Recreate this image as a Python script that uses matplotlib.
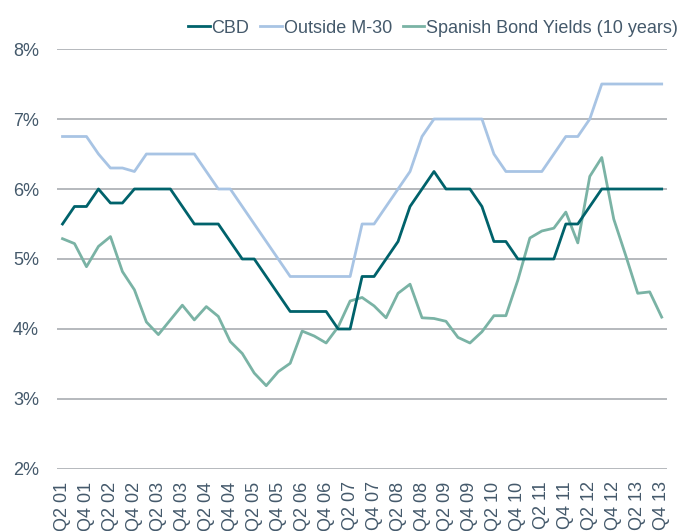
import matplotlib
matplotlib.use("Agg")
import matplotlib.pyplot as plt
import numpy as np

# Quarterly series, Q2 2001 .. Q4 2013 (51 quarters)
quarters = [f"Q{q} {y:02d}" for y in range(1, 14) for q in (1, 2, 3, 4)][1:]

cbd = [5.5, 5.75, 5.75, 6.0, 5.8, 5.8, 6.0, 6.0, 6.0, 6.0,
       5.75, 5.5, 5.5, 5.5, 5.25, 5.0, 5.0, 4.75, 4.5, 4.25,
       4.25, 4.25, 4.25, 4.0, 4.0, 4.75, 4.75, 5.0, 5.25, 5.75,
       6.0, 6.25, 6.0, 6.0, 6.0, 5.75, 5.25, 5.25, 5.0, 5.0,
       5.0, 5.0, 5.5, 5.5, 5.75, 6.0, 6.0, 6.0, 6.0, 6.0, 6.0]

outside_m30 = [6.75, 6.75, 6.75, 6.5, 6.3, 6.3, 6.25, 6.5, 6.5, 6.5,
               6.5, 6.5, 6.25, 6.0, 6.0, 5.75, 5.5, 5.25, 5.0, 4.75,
               4.75, 4.75, 4.75, 4.75, 4.75, 5.5, 5.5, 5.75, 6.0, 6.25,
               6.75, 7.0, 7.0, 7.0, 7.0, 7.0, 6.5, 6.25, 6.25, 6.25,
               6.25, 6.5, 6.75, 6.75, 7.0, 7.5, 7.5, 7.5, 7.5, 7.5, 7.5]

bond_yields = [5.29, 5.22, 4.89, 5.18, 5.32, 4.82, 4.56, 4.10, 3.92, 4.13,
               4.34, 4.13, 4.32, 4.18, 3.82, 3.65, 3.37, 3.19, 3.39, 3.51,
               3.97, 3.90, 3.80, 4.03, 4.40, 4.45, 4.33, 4.16, 4.51, 4.64,
               4.16, 4.15, 4.11, 3.88, 3.80, 3.96, 4.19, 4.19, 4.70, 5.30,
               5.40, 5.44, 5.67, 5.23, 6.18, 6.45, 5.57, 5.05, 4.51, 4.53, 4.17]

y_ticks = [2, 3, 4, 5, 6, 7, 8]

text_color = "#44596B"
grid_color = "#A9ADB1"

plt.rcParams["font.family"] = ["Liberation Sans", "DejaVu Sans"]

fig = plt.figure(figsize=(6.8, 5.31), dpi=100)
ax = fig.add_axes([0.084, 0.1168, 0.897, 0.7909])

x = np.arange(len(quarters))
ax.plot(x, cbd, color="#00626B", lw=2.0, label="CBD", zorder=4)
ax.plot(x, outside_m30, color="#A8C4E4", lw=2.0, label="Outside M-30", zorder=3)
ax.plot(x, bond_yields, color="#7AB3A5", lw=2.0, label="Spanish Bond Yields (10 years)", zorder=3)

ax.set_ylim(2, 8)
ax.set_xlim(-0.45, len(quarters) - 0.55)
ax.set_yticks(y_ticks)
ax.set_yticklabels([f"{v}%" for v in y_ticks])
ax.set_xticks(x[::2])
ax.set_xticklabels(quarters[::2], rotation=90, va="top", ha="center")

for v in y_ticks:
    ax.axhline(v, color=grid_color, lw=1.2, zorder=1)

for s in ax.spines.values():
    s.set_visible(False)
ax.tick_params(axis="both", length=0, labelsize=13, colors=text_color)
ax.tick_params(axis="y", pad=13)
ax.tick_params(axis="x", pad=9)

leg = ax.legend(loc="center right", bbox_to_anchor=(1.018, 1.05), ncol=3, frameon=False,
                fontsize=13, handlelength=1.2, handletextpad=0.1, columnspacing=0.6,
                borderaxespad=0, borderpad=0)
for t in leg.get_texts():
    t.set_color(text_color)

fig.savefig("out.png", dpi=100)
